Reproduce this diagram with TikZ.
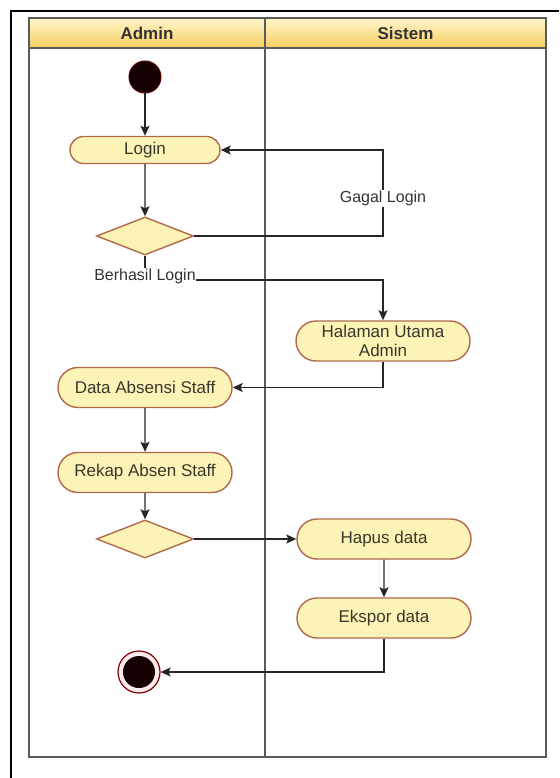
\documentclass[tikz,border=0pt]{standalone}
\usepackage{fontspec}
\setmainfont{Liberation Sans}
\usetikzlibrary{positioning,arrows.meta,shapes.geometric,shapes.misc}

\definecolor{actfill}{HTML}{FCF3B6}
\definecolor{actline}{HTML}{B0694A}
\definecolor{acttext}{HTML}{38382A}
\definecolor{lanehi}{HTML}{FFF4CC}
\definecolor{lanelo}{HTML}{F7CF5E}
\definecolor{laneline}{HTML}{5A5A5A}

\tikzset{
  activity/.style={rounded rectangle, draw=actline, fill=actfill, line width=1.4pt,
    text=acttext, minimum width=178pt, minimum height=40pt, inner sep=2pt,
    align=center, font=\fontsize{17}{19}\selectfont},
  decision/.style={diamond, draw=actline, fill=actfill, line width=1.4pt,
    minimum width=97pt, minimum height=38pt, inner sep=0pt},
  guard/.style={fill=white, inner sep=1pt, text=black!80, font=\fontsize{16}{18}\selectfont},
  lanehead/.style={text=black!80, font=\bfseries\fontsize{17}{19}\selectfont},
  startdot/.style={circle, fill=black!92!red, draw=red!35!black, line width=1pt,
    minimum size=32pt, inner sep=0pt},
  enddot/.style={circle, fill=red!8, draw=red!50!black, line width=1.2pt,
    minimum size=42pt, inner sep=0pt,
    path picture={\fill[black!92!red] (path picture bounding box.center) circle (16pt);}},
  flow/.style={->, >={Stealth[length=10pt, width=9pt, inset=2pt]}, line width=1.3pt, draw=black!85},
}

\begin{document}
\begin{tikzpicture}[x=1pt, y=-1pt, node distance=80pt, on grid]
  \useasboundingbox (0,0) rectangle (559,778);
  % frame
  \draw[line width=2.4pt] (11,778) -- (11,11) -- (559,11);
  % swimlanes
  \shade[top color=lanehi, bottom color=lanelo] (29,18) rectangle (546,48);
  \draw[laneline, line width=1.4pt] (29,18) rectangle (546,757);
  \draw[laneline, line width=1.4pt] (29,48) -- (546,48);
  \draw[laneline, line width=1.4pt] (265,18) -- (265,757);
  \node[lanehead] (admin) at (147,33) {Admin};
  \node[lanehead] (sistem) at (405.5,33) {Sistem};

  % activities
  \node[startdot] (start) at (145,77) {};
  \node[activity, minimum width=154pt, minimum height=27pt] (login) [below=73pt of start] {Login};
  \node[decision] (cek) [below=86pt of login] {};
  \node[guard, inner sep=0pt] (berhasil) [below=40pt of cek] {Berhasil Login};
  \node[activity] (halaman) [below right=105pt and 238pt of cek] {Halaman Utama\\Admin};
  \node[activity] (data) [below=151.5pt of cek] {Data Absensi Staff};
  \node[activity] (rekap) [below=85pt of data] {Rekap Absen Staff};
  \node[decision] (pilih) [below=66.5pt of rekap] {};
  \node[activity] (hapus) [right=239pt of pilih] {Hapus data};
  \node[activity] (ekspor) [below=79pt of hapus] {Ekspor data};
  \node[enddot] (end) [below left=133pt and 6pt of pilih] {};

  \draw[flow] (start) -- (login);
  \draw[flow] (login) -- (cek);
  \draw[flow] (cek.east) -| node[guard, pos=0.72] {Gagal Login} (halaman.north |- login.east) -- (login.east);
  \draw[line width=1.3pt, draw=black!85] (cek.south) -- (berhasil.north);
  \draw[flow] (berhasil.base east) -| (halaman.north);
  \draw[flow] (halaman.south) |- (data.east);
  \draw[flow] (data) -- (rekap);
  \draw[flow] (rekap) -- (pilih);
  \draw[flow] (pilih.east) -- (hapus.west);
  \draw[flow] (hapus) -- (ekspor);
  \draw[flow] (ekspor.south) |- (end.east);
\end{tikzpicture}
\end{document}
